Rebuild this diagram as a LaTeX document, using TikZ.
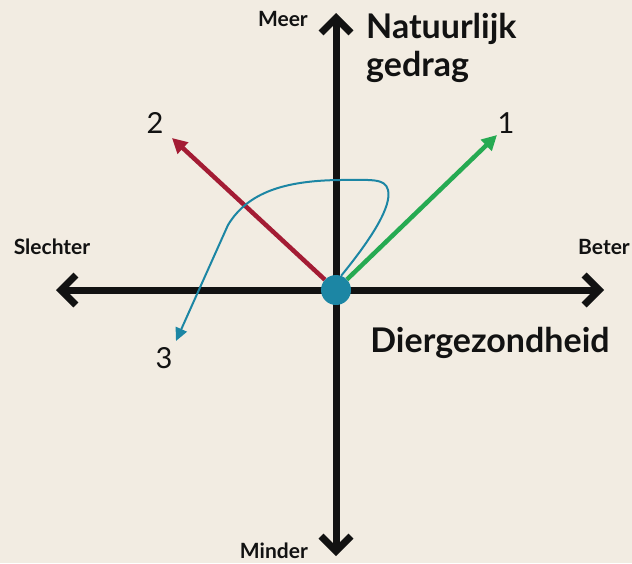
\documentclass[tikz,border=0pt]{standalone}
\usepackage{fontspec}
\setmainfont{Lato}
\usetikzlibrary{arrows.meta,positioning}
\definecolor{KwPaper}{RGB}{242,236,226}
\definecolor{KwInk}{RGB}{18,18,18}
\definecolor{KwRed}{RGB}{163,28,52}
\definecolor{KwGreen}{RGB}{38,170,82}
\definecolor{KwBlue}{RGB}{28,134,164}

\begin{document}
\begin{tikzpicture}[x=1pt,y=-1pt,>=Stealth]
    \tikzset{axis/.style={KwInk,line width=7pt,{Straight Barb[length=15pt,width=30pt]}-{Straight Barb[length=15pt,width=30pt]}},
      smalllab/.style={text=KwInk,font=\fontsize{21}{24}\selectfont\bfseries,inner sep=0pt},
      biglab/.style={text=KwInk,font=\fontsize{34}{38}\selectfont\bfseries,inner sep=0pt,align=left},
      numlab/.style={text=KwInk,font=\fontsize{29}{32}\selectfont,inner sep=0pt},
      route/.style={line width=4.5pt,-{Triangle[length=15pt,width=15pt]}}}
    \fill[KwPaper] (0,0) rectangle (632,563);
    \useasboundingbox (0,0) rectangle (632,563);
    % assen
    \coordinate (top) at (336,13);
    \coordinate (bottom) at (336,556);
    \coordinate (left) at (56,290);
    \coordinate (right) at (604,290);
    \draw[axis] (bottom) -- (top);
    \draw[axis] (left) -- (right);
    % labels bij de assen
    \node[smalllab,anchor=base east] (meer) at (308,26) {Meer};
    \node[smalllab,anchor=base east] (minder) at (308,558) {Minder};
    \node[smalllab] (slechter) at (52,247) {Slechter};
    \node[smalllab] (beter) at (604,247) {Beter};
    \node[biglab,anchor=north west] (gedrag) at (366,13) {Natuurlijk\\gedrag};
    \node[biglab] (gezond) at (490,343) {Diergezondheid};
    % routes
    \node[circle,fill=KwBlue,minimum size=30pt,inner sep=0pt] (o) at (336,290) {};
    \node[numlab] (n1) at (506,123) {1};
    \node[numlab] (n2) at (155,123) {2};
    \node[numlab] (n3) at (164,358) {3};
    \coordinate (t1) at (497,135);
    \coordinate (t2) at (172,138);
    \coordinate (t3) at (176,341);
    \draw[route,KwGreen] (o) -- (t1);
    \draw[route,KwRed] (o) -- (t2);
    \draw[KwBlue,line width=2pt,-{Triangle[length=13pt,width=12pt]}] (o.70) .. controls (372,238) and (392,206) .. (388,190)
      .. controls (385,178) and (372,180) .. (338,180)
      .. controls (285,181) and (248,192) .. (228,225) -- (t3);
\end{tikzpicture}
\end{document}
